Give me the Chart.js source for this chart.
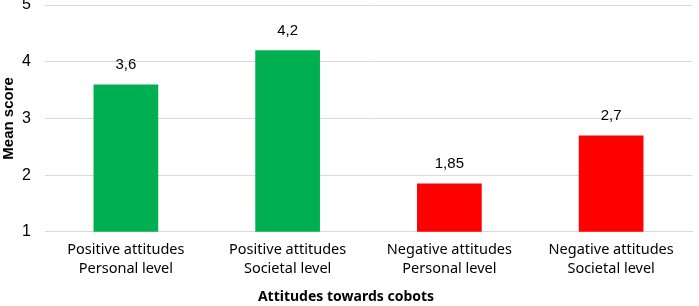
<!DOCTYPE html>
<html>
<head>
<meta charset="utf-8">
<script src="https://cdn.jsdelivr.net/npm/chart.js@4"></script>
<style>
  html, body { margin: 0; padding: 0; background: #fff; }
  #wrap { width: 699px; height: 306px; position: relative; }
</style>
</head>
<body>
<div id="wrap"><canvas id="attitudesChart"></canvas></div>
<script>
const categories = [
    ['Positive attitudes', 'Personal level'],
    ['Positive attitudes', 'Societal level'],
    ['Negative attitudes', 'Personal level'],
    ['Negative attitudes', 'Societal level']
];
const meanScores = [3.6, 4.2, 1.85, 2.7];
const barColors = ['#00B050', '#00B050', '#FF0000', '#FF0000'];
const yTicks = [1, 2, 3, 4, 5];

// value labels above each bar, comma as decimal mark
const valueLabels = {
    id: 'valueLabels',
    afterDatasetsDraw(chart) {
        const ctx = chart.ctx;
        const meta = chart.getDatasetMeta(0);
        ctx.save();
        ctx.font = '15px "Liberation Sans", Arial, sans-serif';
        ctx.fillStyle = '#000';
        ctx.textAlign = 'center';
        ctx.textBaseline = 'middle';
        meta.data.forEach((bar, i) => {
            const text = String(meanScores[i]).replace('.', ',');
            ctx.fillText(text, bar.x, bar.y - 20);
        });
        ctx.restore();
    }
};

new Chart('attitudesChart', {
    type: 'bar',
    data: {
        labels: categories,
        datasets: [{
            data: meanScores,
            backgroundColor: barColors,
            borderWidth: 0,
            categoryPercentage: 0.8,
            barPercentage: 0.5
        }]
    },
    options: {
        responsive: true,
        maintainAspectRatio: false,
        animation: false,
        layout: { padding: { top: 5, right: 7, left: 0, bottom: 0 } },
        plugins: {
            legend: { display: false },
            tooltip: { enabled: false },
            title: {
                display: true,
                position: 'bottom',
                text: 'Attitudes towards cobots',
                color: '#000',
                padding: { top: 0, bottom: 0 },
                font: { family: '"Noto Sans", "Open Sans", sans-serif', size: 14, weight: 'bold', lineHeight: 1.3 }
            }
        },
        scales: {
            x: {
                grid: { display: false, drawTicks: false },
                border: { color: '#d9d9d9', width: 1 },
                ticks: {
                    color: '#000',
                    padding: 8,
                    font: { family: '"Noto Sans", "Open Sans", sans-serif', size: 14.5, lineHeight: 1.35 }
                },
                afterFit(scale) { scale.height = 56; }
            },
            y: {
                min: 1,
                max: 5,
                afterBuildTicks(scale) {
                    scale.ticks = yTicks.map(v => ({ value: v }));
                },
                grid: { color: '#d9d9d9', drawTicks: false },
                border: { display: false },
                ticks: {
                    color: '#000',
                    padding: 14,
                    font: { family: '"Liberation Sans", Arial, sans-serif', size: 16 }
                },
                title: {
                    display: true,
                    text: 'Mean score',
                    color: '#000',
                    padding: { top: 0, bottom: 0 },
                    font: { family: '"Liberation Sans", Arial, sans-serif', size: 15, weight: 'bold' }
                },
                afterFit(scale) {
                    scale.width = 45;
                    scale.paddingTop = 0;
                    scale.paddingBottom = 0;
                }
            }
        }
    },
    plugins: [valueLabels]
});
</script>
</body>
</html>
